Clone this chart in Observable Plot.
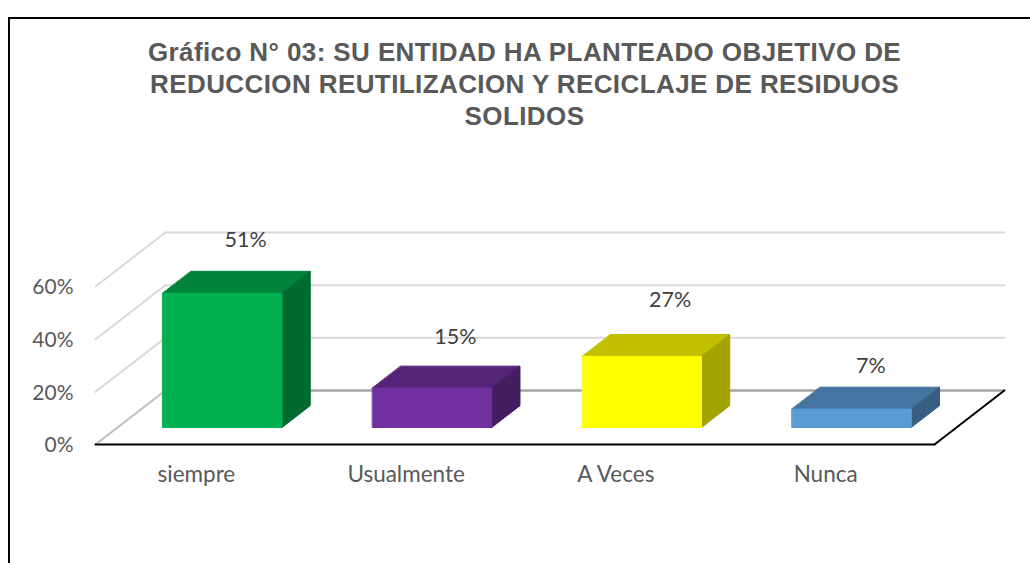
<!DOCTYPE html>
<html><head><meta charset="utf-8">
<script src="https://cdn.jsdelivr.net/npm/d3@7"></script>
<script src="https://cdn.jsdelivr.net/npm/@observablehq/plot@0.6"></script>
<style>
html,body{margin:0;padding:0;background:#fff;overflow:hidden}
#page{position:relative;width:1030px;height:563px;overflow:hidden}
#frame{position:absolute;left:8px;top:17px;width:1100px;height:700px;border-left:2px solid #000;border-top:2px solid #000;box-sizing:border-box}
#title{position:absolute;left:0;top:36px;width:1049px;height:94px;text-align:center;font:bold 26px/32px "Liberation Sans",Arial,sans-serif;letter-spacing:.4px;color:#595959}
#chart{position:absolute;left:0;top:130px}
svg{overflow:visible}
</style></head><body>
<div id="page"><div id="frame"></div>
<div id="title">Gráfico N° 03: SU ENTIDAD HA PLANTEADO OBJETIVO DE<br>REDUCCION REUTILIZACION Y RECICLAJE DE RESIDUOS<br>SOLIDOS</div>
<div id="chart"></div></div>
<script>
const categories = ["siempre", "Usualmente", "A Veces", "Nunca"];
const values = [51, 15, 27, 7];
const frontColors = ["#00b050", "#7030a0", "#ffff00", "#5b9bd5"];
const topColors = ["#00843c", "#542478", "#c0c000", "#4475a0"];
const sideColors = ["#006a30", "#431d60", "#a3a300", "#385f82"];
const gridValues = [20, 40, 60];

// oblique projection: one unit of depth moves right and up, in scale units
const depthX = 0.333, depthY = 20.5;
const at = (cat, val, d) => ({x: cat + d * depthX, y: val + d * depthY});
const barFront = 0.315, barBack = 0.72, barStart = 0.216, barWidth = 0.568;

const marks = [];
const poly = (pts, color, sw = 1) => Plot.line(pts, {x: "x", y: "y", fill: color, stroke: color, strokeWidth: sw, curve: "linear-closed"});
const seg = (a, b, color, sw) => Plot.line([a, b], {x: "x", y: "y", stroke: color, strokeWidth: sw});

// walls and floor lines
for (const g of gridValues) {
  marks.push(seg(at(0, g, 0), at(0, g, 1), "#d9d9d9", 2));
  marks.push(seg(at(0, g, 1), at(4, g, 1), "#d9d9d9", 2));
}
marks.push(seg(at(0, 0, 0), at(0, 0, 1), "#bfbfbf", 2));
marks.push(seg(at(0, 0, 1), at(4, 0, 1), "#a6a6a6", 2.5));
marks.push(seg(at(4, 0, 0), at(4, 0, 1), "#000", 2));
marks.push(seg(at(0, 0, 0), at(4, 0, 0), "#000", 2));

// bars
categories.forEach((c, i) => {
  const x0 = i + barStart, x1 = x0 + barWidth, v = values[i];
  marks.push(poly([at(x0, v, barFront), at(x1, v, barFront), at(x1, v, barBack), at(x0, v, barBack)], topColors[i]));
  marks.push(poly([at(x1, 0, barFront), at(x1, 0, barBack), at(x1, v, barBack), at(x1, v, barFront)], sideColors[i]));
  marks.push(poly([at(x0, 0, barFront), at(x1, 0, barFront), at(x1, v, barFront), at(x0, v, barFront)], frontColors[i]));
});

// data labels: placed above each bar, with the small manual shifts seen in the picture
const shiftX = [-5, -5, 0, -9], shiftY = [-31, -29, -34, -21];
categories.forEach((c, i) => {
  const p = at(i + barStart + barWidth / 2, values[i], barBack);
  marks.push(Plot.text([p], {x: "x", y: "y", text: () => values[i] + "%", dx: shiftX[i], dy: shiftY[i], fontSize: 21.5, fill: "#404040", fontFamily: "Lato"}));
});

const chart = Plot.plot({
  width: 1030, height: 433,
  marginLeft: 95, marginRight: 96, marginTop: 0, marginBottom: 0,
  style: {background: "transparent", fontFamily: "Lato", overflow: "visible"},
  x: {domain: [0, 4], range: [95, 934]},
  y: {domain: [0, 60], range: [314, 156]},
  marks: [
    ...marks,
    Plot.axisY({ticks: [0, ...gridValues], tickFormat: d => d + "%", anchor: "left", tickSize: 0, tickPadding: 22, dy: 1, label: null, fontSize: 21, fill: "#595959"}),
    Plot.axisX({ticks: categories.map((c, i) => i + 0.5), tickFormat: d => categories[d - 0.5], anchor: "bottom", y: 0, tickSize: 0, tickPadding: 22, dx: -4, label: null, fontSize: 22.5, fill: "#595959", textAnchor: "middle"})
  ]
});
document.getElementById("chart").appendChild(chart);
</script></body></html>
